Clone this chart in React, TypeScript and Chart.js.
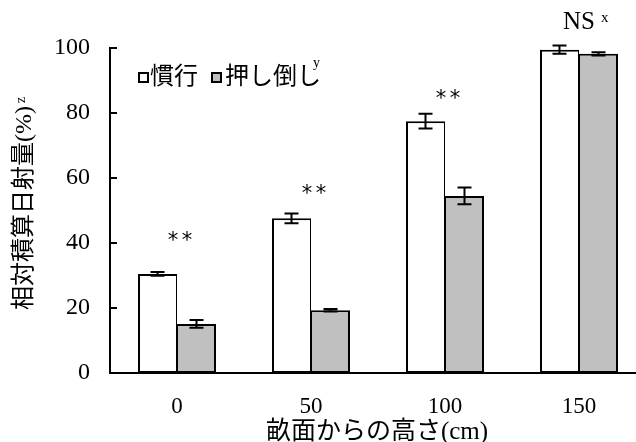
import { useEffect, useRef } from 'react';
import { Chart, registerables } from 'chart.js';

Chart.register(...registerables);

// Height above the field surface (cm)
const categories = ['0', '50', '100', '150'];

// Relative cumulative solar radiation (%)
const conventional = [30.5, 47.6, 77.5, 99.5];
const conventionalErr = [0.6, 1.5, 2.3, 1.3];
const pushedDown = [15.1, 19.3, 54.5, 98.2];
const pushedDownErr = [1.2, 0.4, 2.6, 0.5];

// Significance marks and the axis value they sit at
const sigLabels = ['**', '**', '**', 'NS'];
const sigAt = [42.8, 57.2, 86.5, 107.8];

const yTicks = [0, 20, 40, 60, 80, 100];

const SERIF = '"Liberation Serif", "Times New Roman", serif';
const STAR = '"DejaVu Sans", sans-serif';
const MIXED = '"Liberation Serif", "Noto Sans CJK JP", sans-serif';
const GRAY = '#c0c0c0';

const overlay = {
  id: 'overlay',
  afterDatasetsDraw(chart: any) {
    const ctx = chart.ctx;
    const y = chart.scales.y;
    ctx.save();
    ctx.strokeStyle = '#000';
    ctx.lineWidth = 2;
    chart.data.datasets.forEach((ds: any, di: number) => {
      const meta = chart.getDatasetMeta(di);
      meta.data.forEach((el: any, i: number) => {
        const v = ds.data[i];
        const e = ds.errors[i];
        const top = y.getPixelForValue(v + e);
        const bot = y.getPixelForValue(v - e);
        ctx.beginPath();
        ctx.moveTo(el.x, top);
        ctx.lineTo(el.x, bot);
        ctx.moveTo(el.x - 7, top);
        ctx.lineTo(el.x + 7, top);
        ctx.moveTo(el.x - 7, bot);
        ctx.lineTo(el.x + 7, bot);
        ctx.stroke();
      });
    });
    ctx.restore();
  },
  afterDraw(chart: any) {
    const ctx = chart.ctx;
    const x = chart.scales.x;
    const y = chart.scales.y;
    const area = chart.chartArea;
    ctx.save();

    // inward tick marks on the value axis
    ctx.strokeStyle = '#000';
    ctx.lineWidth = 2;
    yTicks.forEach((t) => {
      const py = Math.round(y.getPixelForValue(t));
      ctx.beginPath();
      ctx.moveTo(area.left, py);
      ctx.lineTo(area.left + 7, py);
      ctx.stroke();
    });

    // significance marks
    ctx.fillStyle = '#000';
    sigLabels.forEach((s, i) => {
      const px = x.getPixelForValue(i);
      const py = y.getPixelForValue(sigAt[i]);
      if (s === 'NS') {
        ctx.textBaseline = 'middle';
        ctx.font = `25px ${SERIF}`;
        ctx.textAlign = 'center';
        ctx.fillText(s, px, py);
        const w = ctx.measureText(s).width;
        ctx.font = `15px ${SERIF}`;
        ctx.textAlign = 'left';
        ctx.fillText('x', px + w / 2 + 6, py - 5);
      } else {
        ctx.font = `21px ${STAR}`;
        ctx.textAlign = 'left';
        ctx.textBaseline = 'alphabetic';
        // two stars, 14px apart, centred just right of the category
        const sw = ctx.measureText('*').width;
        ctx.fillText('*', px - 4 - sw / 2, py + 13);
        ctx.fillText('*', px + 10 - sw / 2, py + 13);
      }
    });

    // legend
    ctx.lineWidth = 2;
    ctx.fillStyle = '#fff';
    ctx.fillRect(139, 73, 9, 9);
    ctx.strokeRect(139, 73, 9, 9);
    ctx.fillStyle = GRAY;
    ctx.fillRect(212, 73, 9, 9);
    ctx.strokeRect(212, 73, 9, 9);
    ctx.fillStyle = '#000';
    ctx.font = `24px ${MIXED}`;
    ctx.textAlign = 'left';
    ctx.textBaseline = 'middle';
    ctx.fillText('慣行', 150, 78);
    ctx.fillText('押し倒し', 225, 78);
    ctx.font = `14px ${SERIF}`;
    ctx.fillText('y', 313, 63);

    // x axis title
    ctx.font = `25px ${MIXED}`;
    ctx.textAlign = 'center';
    ctx.fillText('畝面からの高さ(cm)', 377, 432);

    // y axis title
    ctx.save();
    ctx.translate(25, 208);
    ctx.rotate(-Math.PI / 2);
    const yTitle = '相対積算日射量(%)';
    ctx.font = `24px ${MIXED}`;
    ctx.fillText(yTitle, 0, 0);
    const tw = ctx.measureText(yTitle).width;
    ctx.font = `14px ${SERIF}`;
    ctx.textAlign = 'left';
    ctx.fillText('z', tw / 2 + 3, -4);
    ctx.restore();

    ctx.restore();
  },
};

export default function App() {
  const canvasRef = useRef<HTMLCanvasElement | null>(null);

  useEffect(() => {
    const canvas = canvasRef.current;
    if (!canvas) return;
    const chart = new Chart(canvas, {
      type: 'bar',
      data: {
        labels: categories,
        datasets: [
          {
            label: '慣行',
            data: conventional,
            errors: conventionalErr,
            backgroundColor: '#ffffff',
            borderColor: '#000',
            borderWidth: { left: 2, top: 2, right: 1, bottom: 2 },
            borderSkipped: false,
            categoryPercentage: 78 / 134,
            barPercentage: 1,
          } as any,
          {
            label: '押し倒し',
            data: pushedDown,
            errors: pushedDownErr,
            backgroundColor: GRAY,
            borderColor: '#000',
            borderWidth: { left: 1, top: 2, right: 2, bottom: 2 },
            borderSkipped: false,
            categoryPercentage: 78 / 134,
            barPercentage: 1,
          } as any,
        ],
      },
      options: {
        responsive: false,
        animation: false,
        devicePixelRatio: 1,
        layout: { padding: { top: 48, right: 0, bottom: 0, left: 0 } },
        plugins: {
          legend: { display: false },
          tooltip: { enabled: false },
          title: { display: false },
        },
        scales: {
          x: {
            grid: { display: false },
            border: { display: true, color: '#000', width: 2 },
            ticks: {
              color: '#000',
              font: { family: SERIF, size: 23 },
              padding: 12,
            },
            afterFit(scale: any) {
              scale.height = 69;
            },
          },
          y: {
            min: 0,
            max: 100,
            grid: { display: false },
            border: { display: true, color: '#000', width: 2 },
            ticks: {
              stepSize: 20,
              color: '#000',
              font: { family: SERIF, size: 24 },
              padding: 12,
            },
            afterFit(scale: any) {
              scale.width = 110;
            },
          },
        },
      },
      plugins: [overlay],
    } as any);
    return () => chart.destroy();
  }, []);

  return (
    <div
      style={{
        position: 'absolute',
        left: 0,
        top: 0,
        width: 636,
        height: 442,
        overflow: 'hidden',
        background: '#fff',
      }}
    >
      <canvas ref={canvasRef} width={646} height={442} style={{ display: 'block' }} />
    </div>
  );
}
